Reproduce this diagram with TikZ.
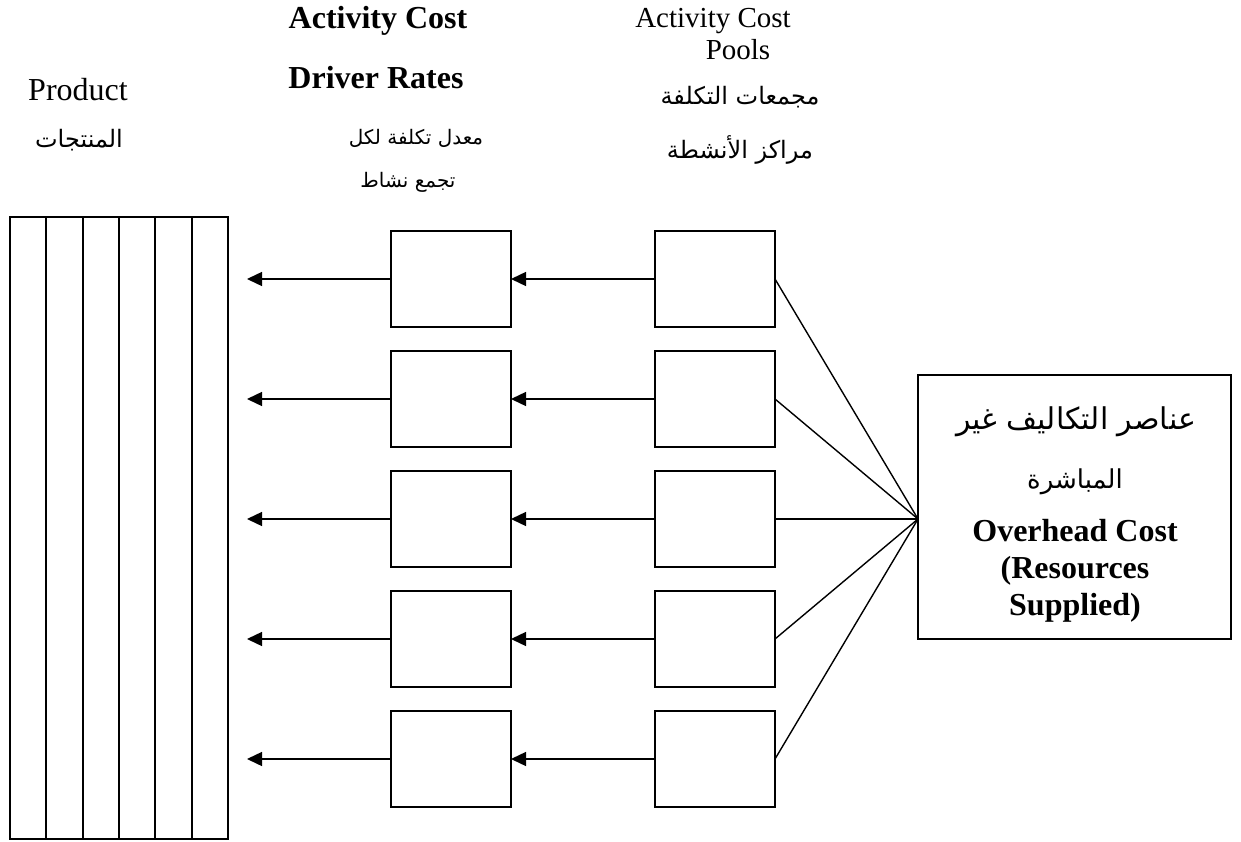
\documentclass[tikz,border=0pt]{standalone}
\usepackage{fontspec}
\setmainfont{Liberation Serif}
\newfontfamily\arabicfont[Script=Arabic]{DejaVu Sans}
\TeXXeTstate=1
\usetikzlibrary{arrows.meta,calc}
\begin{document}
\begin{tikzpicture}[x=1pt,y=-1pt,
  box/.style={draw,line width=2pt,minimum width=120pt,minimum height=96pt,inner sep=0pt,outer sep=0pt},
  conn/.style={line width=1.4pt},
  arr/.style={conn,-{Triangle[length=15pt,width=14pt]}},
  en/.style={font=\fontsize{29}{32}\selectfont,inner sep=0pt},
  enr/.style={font=\fontsize{32}{37}\selectfont,inner sep=0pt},
  enb/.style={font=\fontsize{32}{37}\selectfont\bfseries,inner sep=0pt},
  ar/.style={font=\arabicfont\fontsize{24}{28}\selectfont,inner sep=0pt},
  armid/.style={font=\arabicfont\fontsize{26}{30}\selectfont,inner sep=0pt},
  arsmall/.style={font=\arabicfont\fontsize{20}{24}\selectfont,inner sep=0pt},
  arbig/.style={font=\arabicfont\fontsize{30}{34}\selectfont,inner sep=0pt},
]
\useasboundingbox (0,0) rectangle (1241,842);
% product block
\node[draw,line width=2pt,minimum width=218pt,minimum height=622pt,inner sep=0pt,outer sep=0pt,anchor=north west] (prod) at (10,217) {};
\foreach \i in {1,...,5}
  \draw[line width=2pt] ($(prod.north west)!\i/6!(prod.north east)$) -- ($(prod.south west)!\i/6!(prod.south east)$);
% overhead box
\node[draw,line width=2pt,minimum width=313pt,minimum height=264pt,inner sep=0pt,outer sep=0pt,anchor=north west] (ov) at (918,375) {};
\coordinate (fan) at ($(ov.north west)+(0,144)$);
% rows
\foreach \i/\y in {1/279,2/399,3/519,4/639,5/759} {
  \node[box] (m\i) at (451,\y) {};
  \node[box] (r\i) at (715,\y) {};
  \coordinate (t\i) at (247,\y);
  \draw[arr] (r\i.west) -- (m\i.east);
  \draw[arr] (m\i.west) -- (t\i);
  \draw[conn] (r\i.east) -- (fan);
}
% headings
\node[enr,anchor=base] (hprod) at (78,101) {Product};
\node[ar] (hprodar) at (79,140) {\beginR المنتجات\endR};
\node[enb,anchor=base] (hrate1) at (378,29) {Activity Cost};
\node[enb,anchor=base] (hrate2) at (376,89) {Driver Rates};
\node[arsmall] (hratear1) at (416,138) {\beginR معدل تكلفة لكل\endR};
\node[arsmall] (hratear2) at (408,182) {\beginR تجمع نشاط\endR};
\node[en,anchor=base] (hpool1) at (713,28) {Activity Cost};
\node[en,anchor=base] (hpool2) at (738,60) {Pools};
\node[ar] (hpoolar1) at (740,97) {\beginR مجمعات التكلفة\endR};
\node[ar] (hpoolar2) at (740,150) {\beginR مراكز الأنشطة\endR};
% overhead text
\node[arbig] (ovar1) at (1076,422) {\beginR عناصر التكاليف غير\endR};
\node[armid] (ovar2) at (1075,482) {\beginR المباشرة\endR};
\node[enb,anchor=base] (oven1) at (1075,541) {Overhead Cost};
\node[enb,anchor=base] (oven2) at (1075,578) {(Resources};
\node[enb,anchor=base] (oven3) at (1075,615) {Supplied)};
\end{tikzpicture}
\end{document}
